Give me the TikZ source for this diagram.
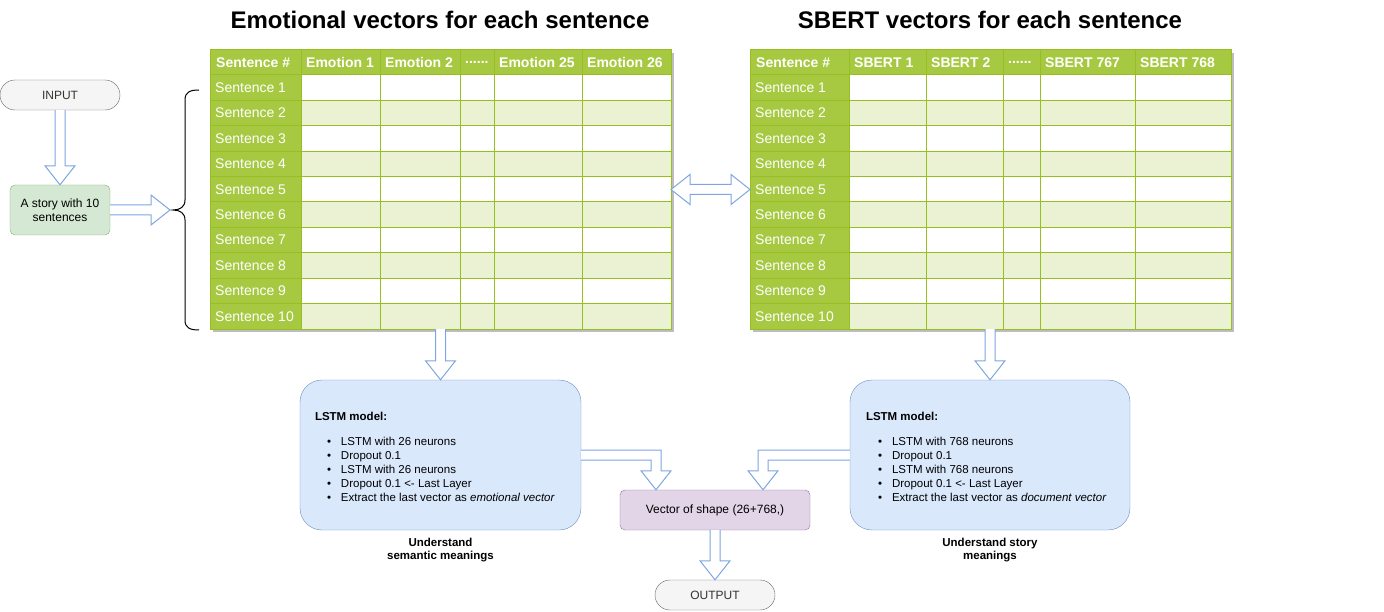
\documentclass[tikz,border=0pt]{standalone}
\usepackage{fontspec}
\setmainfont{Liberation Sans}
\usetikzlibrary{calc,positioning}
\definecolor{TableGreen}{HTML}{A7C942}
\definecolor{TableLine}{HTML}{98BF21}
\definecolor{TableShadow}{HTML}{BDBDBD}
\definecolor{RowTint}{HTML}{EAF2D3}
\definecolor{PillFill}{HTML}{F5F5F5}
\definecolor{PillLine}{HTML}{666666}
\definecolor{PillText}{HTML}{333333}
\definecolor{StoryFill}{HTML}{D5E8D4}
\definecolor{StoryLine}{HTML}{82B366}
\definecolor{LstmFill}{HTML}{DAE8FC}
\definecolor{LstmLine}{HTML}{6C8EBF}
\definecolor{VecFill}{HTML}{E1D5E7}
\definecolor{VecLine}{HTML}{9673A6}
\definecolor{ArrowLine}{HTML}{7EA6E0}
\newcommand{\titlefont}{\fontsize{24}{28}\selectfont\bfseries}
\newcommand{\tablefont}{\fontsize{14}{16}\selectfont}
\newcommand{\boxfont}{\fontsize{12}{13.5}\selectfont}
\newcommand{\listfont}{\fontsize{11.5}{14}\selectfont}
\newcommand{\capfont}{\fontsize{11.5}{13}\selectfont\bfseries}
\newcommand{\lstmitem}{\hspace*{12pt}\makebox[14pt][l]{\textbullet}}
\newcommand{\sixdots}{......}
\newcommand{\vectortable}[5]{%
  % #1 name, #2 left, #3 right, #4 first data column, #5 columns
  \fill[TableShadow] (#2+3,53) rectangle (#3+3,332);
  \node[tableframe,minimum width=#3-#2] (#1) at ({(#2+#3)/2},189.5) {};
  \foreach \r in {1,...,10} {
    \pgfmathsetmacro{\ytop}{75+25.4*(\r-1)}
    \ifodd\r\relax \def\rowfill{white}\else \def\rowfill{RowTint}\fi
    \fill[\rowfill] (#4,\ytop) rectangle (#3,\ytop+25.4);
  }
  \fill[TableGreen] (#2,50) rectangle (#3,75);
  \fill[TableGreen] (#2,75) rectangle (#4,329);
  \node[headcell] (#1-head) at (#2+6,62.5) {Sentence \#};
  \foreach \xl/\head [count=\c] in {#5} {
    \node[headcell] (#1-h\c) at (\xl+5,62.5) {\head};
    \draw[gridline] (\xl,50) -- (\xl,329);
  }
  \foreach \r in {1,...,10} {
    \pgfmathsetmacro{\ytop}{75+25.4*(\r-1)}
    \node[labelcell] (#1-s\r) at (#2+5,\ytop+12.7) {Sentence \r};
    \draw[gridline] (#2,\ytop) -- (#3,\ytop);
  }
  \draw[gridline] (#2,50) rectangle (#3,329);
}
\newcommand{\downblock}[2]{%
  \draw[blockarrow] let \p1=(#1), \p2=(#2) in
    (\x2-5pt,\y1) -- (\x2-5pt,\y2+19pt) -- (\x2-15pt,\y2+19pt) -- (\x2,\y2)
    -- (\x2+15pt,\y2+19pt) -- (\x2+5pt,\y2+19pt) -- (\x2+5pt,\y1);
}
\newcommand{\rightblock}[2]{%
  \draw[blockarrow] let \p1=(#1), \p2=(#2) in
    (\x1,\y2+5pt) -- (\x2-19pt,\y2+5pt) -- (\x2-19pt,\y2+15pt) -- (\x2,\y2)
    -- (\x2-19pt,\y2-15pt) -- (\x2-19pt,\y2-5pt) -- (\x1,\y2-5pt);
}
\newcommand{\elbowblock}[3]{%
  % #3 is 1 when the arrow turns right, (-1) when it turns left
  \draw[blockarrow] let \p1=(#1), \p2=(#2) in
    (\x1,\y1+5pt) -- ({\x2+#3*5pt},\y1+5pt) -- ({\x2+#3*5pt},\y2+19pt) -- ({\x2+#3*15pt},\y2+19pt)
    -- (\x2,\y2) -- ({\x2-#3*15pt},\y2+19pt) -- ({\x2-#3*5pt},\y2+19pt) -- ({\x2-#3*5pt},\y1-5pt)
    -- (\x1,\y1-5pt);
}
\begin{document}
\begin{tikzpicture}[
  x=1pt,
  y=-1pt,
  titletext/.style={anchor=base,font=\titlefont},
  pill/.style={rectangle,rounded corners=15pt,draw=PillLine,fill=PillFill,text=PillText,
    minimum width=120pt,minimum height=30pt,font=\boxfont},
  story/.style={rectangle,rounded corners=5pt,draw=StoryLine,fill=StoryFill,
    minimum width=100pt,minimum height=50pt,align=center,font=\boxfont},
  lstmbox/.style={rectangle,rounded corners=22pt,draw=LstmLine,fill=LstmFill,
    minimum height=150pt},
  lstmlist/.style={anchor=west,align=left,inner sep=0pt,font=\listfont},
  vecbox/.style={rectangle,rounded corners=5pt,draw=VecLine,fill=VecFill,
    minimum width=190pt,minimum height=40pt,font=\boxfont},
  capnote/.style={align=center,font=\capfont},
  tableframe/.style={rectangle,draw=TableLine,fill=white,minimum height=279pt,
    inner sep=0pt,outer sep=0pt},
  headcell/.style={anchor=west,inner sep=0pt,text=white,font=\tablefont\bfseries},
  labelcell/.style={anchor=west,inner sep=0pt,text=white,font=\tablefont},
  gridline/.style={draw=TableLine,line width=1pt},
  blockarrow/.style={draw=ArrowLine,fill=white,line width=1pt,line join=miter},
  bracestroke/.style={draw=black,line width=1pt}
]
  \useasboundingbox (0,0) rectangle (1384,612);

  \node[titletext] (emotitle) at (440,28.5) {Emotional vectors for each sentence};
  \node[titletext] (sberttitle) at (990,28.5) {SBERT vectors for each sentence};

  \vectortable{emotab}{210}{671}{301}{301/Emotion 1,380/Emotion 2,460/\sixdots,494/Emotion 25,582/Emotion 26}
  \vectortable{sbertab}{750}{1231}{849}{849/SBERT 1,926/SBERT 2,1003/\sixdots,1040/SBERT 767,1135/SBERT 768}

  \node[pill] (input) at (60,95) {INPUT};
  \node[story] (story) at (60,210) {A story with 10\\sentences};
  \coordinate (bracetip) at (170,210);
  \draw[bracestroke] (199,90) .. controls (190,90) and (185,92) .. (185,100) -- (185,200)
    .. controls (185,207) and (180,210) .. (173,210)
    .. controls (180,210) and (185,213) .. (185,220) -- (185,320)
    .. controls (185,328) and (190,330) .. (199,330);

  \node[lstmbox,minimum width=281pt] (lstmL) at (440.5,455) {};
  \node[lstmlist] (emolist) at ($(lstmL.west)+(15,1.5)$) {\textbf{LSTM model:}\\[11pt]
    \lstmitem LSTM with 26 neurons\\
    \lstmitem Dropout 0.1\\
    \lstmitem LSTM with 26 neurons\\
    \lstmitem Dropout 0.1 <- Last Layer\\
    \lstmitem Extract the last vector as \textit{emotional vector}};
  \node[capnote] (capL) at (440.5,550.5) {Understand\\semantic meanings};

  \node[lstmbox,minimum width=280pt] (lstmR) at (990,455) {};
  \node[lstmlist] (sbertlist) at ($(lstmR.west)+(16,1.5)$) {\textbf{LSTM model:}\\[11pt]
    \lstmitem LSTM with 768 neurons\\
    \lstmitem Dropout 0.1\\
    \lstmitem LSTM with 768 neurons\\
    \lstmitem Dropout 0.1 <- Last Layer\\
    \lstmitem Extract the last vector as \textit{document vector}};
  \node[capnote] (capR) at (990,550.5) {Understand story\\meanings};

  \node[vecbox] (vec) at (715,510) {Vector of shape (26+768,)};
  \node[pill] (output) at (715,595) {OUTPUT};
  \coordinate (tipL) at ($(vec.north)+(-59,0)$);
  \coordinate (tipR) at ($(vec.north)+(48,0)$);

  % block arrows
  \downblock{input.south}{story.north}
  \rightblock{story.east}{bracetip}
  \draw[blockarrow] let \p1=(emotab.east), \p2=(sbertab.west) in
    (\x1,\y1) -- (\x1+19pt,\y1+15pt) -- (\x1+19pt,\y1+5pt) -- (\x2-19pt,\y1+5pt)
    -- (\x2-19pt,\y1+15pt) -- (\x2,\y1) -- (\x2-19pt,\y1-15pt) -- (\x2-19pt,\y1-5pt)
    -- (\x1+19pt,\y1-5pt) -- (\x1+19pt,\y1-15pt) -- cycle;
  \downblock{emotab.south}{lstmL.north}
  \downblock{sbertab.south}{lstmR.north}
  \elbowblock{lstmL.east}{tipL}{1}
  \elbowblock{lstmR.west}{tipR}{(-1)}
  \downblock{vec.south}{output.north}
\end{tikzpicture}
\end{document}
